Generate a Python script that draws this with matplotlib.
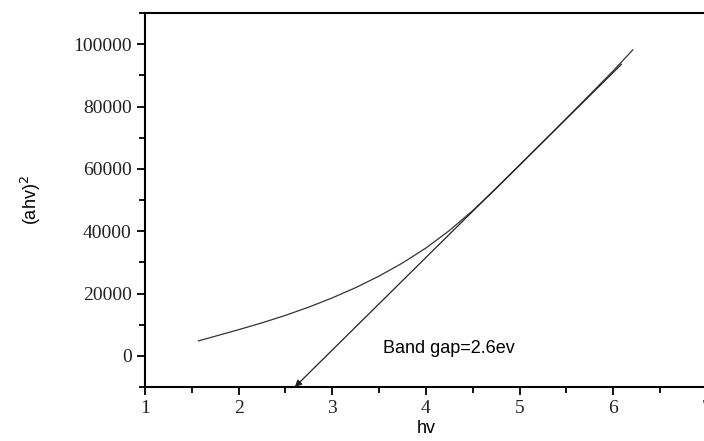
import matplotlib
matplotlib.use("Agg")
import matplotlib.pyplot as plt
from matplotlib.ticker import MultipleLocator

# curve
hv = [1.57, 1.75, 2.0, 2.25, 2.5, 2.75, 3.0, 3.25, 3.5, 3.75, 4.0,
      4.25, 4.5, 4.75, 5.0, 5.25, 5.5, 5.75, 6.0, 6.21]
ahv2 = [4800, 6300, 8400, 10600, 13000, 15650, 18600, 21900, 25600, 29800, 34600,
        40200, 46600, 53700, 61150, 68650, 76200, 83800, 91450, 98200]

# tangent line (extrapolation to band gap)
fit_x = [6.09, 2.6]
fit_y = [93600, -10000]
gap_label = "Band gap=2.6ev"

fig = plt.figure(figsize=(7.04, 4.41), dpi=100)
ax = fig.add_axes([0.206, 0.1224, 0.798, 0.848])

ax.plot(hv, ahv2, color="#333333", lw=0.9)

ax.annotate("", xy=(fit_x[1], fit_y[1]), xytext=(fit_x[0], fit_y[0]),
            arrowprops=dict(arrowstyle="-|>", color="#222222", lw=0.9,
                            mutation_scale=10, shrinkA=0, shrinkB=0))

ax.text(3.54, 2500, gap_label, fontsize=13, family="Liberation Sans", va="center")

ax.set_xlim(1, 7)
ax.set_ylim(-10000, 110000)
ax.xaxis.set_major_locator(MultipleLocator(1))
ax.xaxis.set_minor_locator(MultipleLocator(0.5))
ax.yaxis.set_major_locator(MultipleLocator(20000))
ax.yaxis.set_minor_locator(MultipleLocator(10000))
ax.spines["right"].set_visible(False)
for s in ["top", "left", "bottom"]:
    ax.spines[s].set_linewidth(1.5)
ax.tick_params(which="both", direction="out", width=1.3)
ax.tick_params(which="major", length=6, labelsize=14, labelcolor="#222222")
ax.tick_params(which="minor", length=4)
for lab in ax.get_xticklabels() + ax.get_yticklabels():
    lab.set_family("Liberation Serif")

ax.set_xlabel("hv", fontsize=13, family="Liberation Sans", labelpad=2)
ax.set_ylabel("(ahv)$^2$", fontsize=13, family="Liberation Sans", labelpad=22)

fig.savefig("out.png", dpi=100)
